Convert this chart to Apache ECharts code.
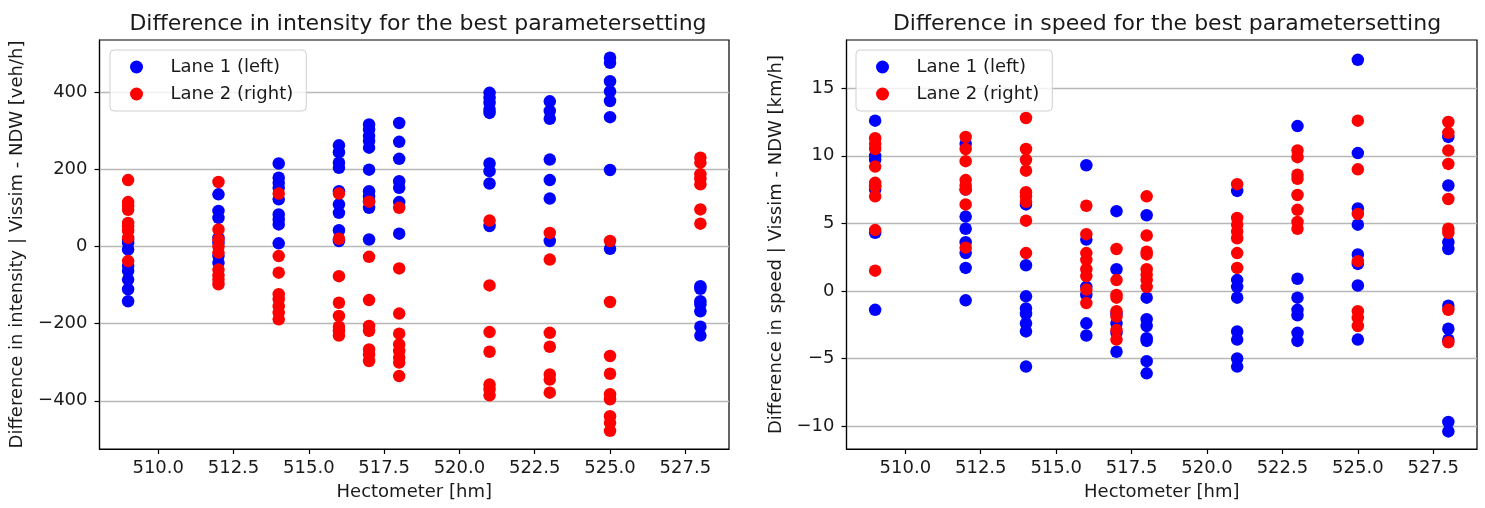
<!DOCTYPE html>
<html>
<head>
<meta charset="utf-8">
<script src="https://cdn.jsdelivr.net/npm/echarts@6/dist/echarts.min.js"></script>
<style>
html,body{margin:0;padding:0;background:#fff;}
#chart{width:1485px;height:508px;}
</style>
</head>
<body>
<div id="chart"></div>
<script>
// Hectometer positions (categories along x)
const hectometers = [509, 512, 514, 516, 517, 518, 521, 523, 525, 528];

// Intensity difference [veh/h] per hectometer
const intensityLane1 = [
  [18, 9, -8, -51, -64, -86, -111, -142],
  [135, 92, 74, 22, 9, -25, -42],
  [215, 178, 165, 152, 122, 83, 70, 57, 8],
  [262, 244, 217, 204, 143, 109, 87, 42, 14],
  [316, 303, 286, 273, 256, 199, 143, 130, 117, 100, 18],
  [320, 271, 227, 169, 152, 115, 33],
  [398, 385, 372, 355, 346, 215, 195, 163, 53],
  [376, 351, 331, 225, 172, 124, 14],
  [489, 476, 428, 402, 377, 335, 198, -6],
  [-103, -110, -142, -150, -168, -208, -231]
];
const intensityLane2 = [
  [172, 115, 105, 95, 61, 52, 40, 22, -38],
  [167, 44, 18, 0, -16, -60, -75, -86, -98],
  [137, -25, -68, -124, -137, -155, -172, -189],
  [137, 20, -77, -146, -180, -208, -219, -231],
  [116, -27, -139, -206, -219, -267, -280, -297],
  [100, -57, -174, -226, -254, -271, -288, -301, -336],
  [67, -101, -222, -273, -358, -370, -386],
  [35, -34, -224, -260, -332, -345, -379],
  [14, -144, -284, -330, -383, -396, -440, -457, -478],
  [230, 217, 187, 175, 161, 96, 59]
];

// Speed difference [km/h] per hectometer
const speedLane1 = [
  [12.6, 10.0, 9.7, 7.8, 7.5, 4.3, -1.4],
  [10.9, 7.5, 5.5, 4.6, 3.6, 2.8, 1.7, -0.7],
  [6.4, 1.9, -0.4, -1.3, -1.7, -2.4, -3.0, -5.6],
  [9.3, 3.8, 0.3, -0.3, -2.4, -3.3],
  [5.9, 1.6, -1.7, -2.4, -3.1, -4.5],
  [5.6, -0.5, -2.1, -2.6, -3.5, -3.7, -5.2, -6.1],
  [7.4, 0.8, 0.3, -0.5, -3.0, -3.6, -5.0, -5.6],
  [12.2, 0.9, -0.5, -1.4, -1.8, -3.1, -3.7],
  [17.1, 10.2, 6.1, 4.9, 2.7, 2.0, 0.4, -3.6],
  [11.4, 7.8, 3.6, 3.1, -1.1, -2.8, -3.6, -9.7, -10.4]
];
const speedLane2 = [
  [11.3, 10.9, 10.5, 9.2, 8.0, 7.7, 7.0, 4.5, 1.5],
  [11.4, 10.5, 9.6, 8.2, 7.8, 7.5, 6.4, 3.2],
  [12.8, 10.5, 9.7, 8.9, 7.3, 7.0, 6.6, 5.2, 2.8],
  [6.3, 4.2, 2.8, 2.3, 1.6, 1.1, 0.1, -0.9],
  [3.1, 0.8, -0.3, -0.5, -1.5, -1.9, -2.9, -3.6],
  [7.0, 4.1, 2.9, 2.7, 1.6, 1.2, 0.8, 0.3],
  [7.9, 5.4, 4.9, 4.4, 3.9, 2.8, 1.7],
  [10.4, 9.9, 8.6, 8.3, 7.1, 6.0, 5.1, 4.6],
  [12.6, 9.0, 5.7, 2.2, -1.5, -2.0, -2.6],
  [12.5, 11.7, 10.4, 9.4, 6.8, 4.6, 4.3, -1.4, -3.8]
];

// Tick values
const xTicks = [510.0, 512.5, 515.0, 517.5, 520.0, 522.5, 525.0, 527.5];
const intensityTicks = [-400, -200, 0, 200, 400];
const speedTicks = [-10, -5, 0, 5, 10, 15];

const seriesNames = ['Lane 1 (left)', 'Lane 2 (right)'];
const titles = ['Difference in intensity for the best parametersetting', 'Difference in speed for the best parametersetting'];
const yNames = ['Difference in intensity | Vissim - NDW [veh/h]', 'Difference in speed | Vissim - NDW [km/h]'];
const xName = 'Hectometer [hm]';

function pairs(groups) {
  const out = [];
  groups.forEach((vals, i) => vals.forEach(v => out.push([hectometers[i], v])));
  return out;
}
function fmtMinus(v) { return String(v).replace('-', '\u2212'); }

const FONT = 'DejaVu Sans';
const TXT = '#1a1a1a';

function xAxisCfg(gi) {
  return {
    type: 'value', gridIndex: gi, min: 508.05, max: 528.95,
    name: xName, nameLocation: 'middle', nameGap: 34,
    nameTextStyle: {fontFamily: FONT, fontSize: 18, color: TXT},
    axisLine: {show: true, onZero: false, lineStyle: {color: '#000', width: 1.2}},
    axisTick: {show: true, length: 5, customValues: xTicks, lineStyle: {color: '#000', width: 1.2}},
    axisLabel: {customValues: xTicks, formatter: v => Number(v).toFixed(1), fontFamily: FONT, fontSize: 18, color: TXT, margin: 10},
    splitLine: {show: false}
  };
}
function yAxisCfg(gi, min, max, ticks, gap) {
  return {
    type: 'value', gridIndex: gi, min: min, max: max,
    name: yNames[gi], nameLocation: 'middle', nameGap: gap, nameRotate: 90,
    nameTextStyle: {fontFamily: FONT, fontSize: 18, color: TXT},
    axisLine: {show: true, onZero: false, lineStyle: {color: '#000', width: 1.2}},
    axisTick: {show: true, length: 5, customValues: ticks, lineStyle: {color: '#000', width: 1.2}},
    axisLabel: {customValues: ticks, formatter: v => fmtMinus(v), fontFamily: FONT, fontSize: 18, color: TXT, margin: 12},
    splitLine: {show: true, lineStyle: {color: '#b8b8b8', width: 1.3}}
  };
}
function legendCfg(left) {
  return {
    data: seriesNames, orient: 'vertical', left: left, top: 50,
    icon: 'circle', itemWidth: 40, itemHeight: 13, itemGap: 9,
    padding: [8, 13, 8, 20],
    backgroundColor: 'rgba(255,255,255,0.8)', borderColor: '#cfcfcf', borderWidth: 1, borderRadius: 4,
    textStyle: {fontFamily: FONT, fontSize: 18, color: TXT, padding: [0, 0, 0, 9]},
    selectedMode: false
  };
}
function scatter(name, gi, data, color) {
  return {
    type: 'scatter', name: name, xAxisIndex: gi, yAxisIndex: gi,
    data: data, symbol: 'circle', symbolSize: 12.5,
    itemStyle: {color: color, opacity: 1}, silent: true, animation: false
  };
}

const chart = echarts.init(document.getElementById('chart'), null, {renderer: 'canvas'});
chart.setOption({
  animation: false,
  backgroundColor: '#fff',
  textStyle: {fontFamily: FONT},
  title: [
    {text: titles[0], left: 413, top: 8, textAlign: 'center', textStyle: {fontFamily: FONT, fontSize: 22, fontWeight: 'normal', color: TXT}},
    {text: titles[1], left: 1162, top: 8, textAlign: 'center', textStyle: {fontFamily: FONT, fontSize: 22, fontWeight: 'normal', color: TXT}}
  ],
  legend: [legendCfg(110), legendCfg(856)],
  grid: [
    {left: 99.5, top: 40, width: 629.5, height: 409, show: true, borderColor: '#000', borderWidth: 1.2, backgroundColor: 'transparent'},
    {left: 846.5, top: 40, width: 630.5, height: 409, show: true, borderColor: '#000', borderWidth: 1.2, backgroundColor: 'transparent'}
  ],
  xAxis: [xAxisCfg(0), xAxisCfg(1)],
  yAxis: [
    yAxisCfg(0, -525, 535, intensityTicks, 73),
    yAxisCfg(1, -11.7, 18.57, speedTicks, 61)
  ],
  series: [
    scatter(seriesNames[0], 0, pairs(intensityLane1), '#0000ff'),
    scatter(seriesNames[1], 0, pairs(intensityLane2), '#ff0000'),
    scatter(seriesNames[0], 1, pairs(speedLane1), '#0000ff'),
    scatter(seriesNames[1], 1, pairs(speedLane2), '#ff0000')
  ]
});
</script>
</body>
</html>
